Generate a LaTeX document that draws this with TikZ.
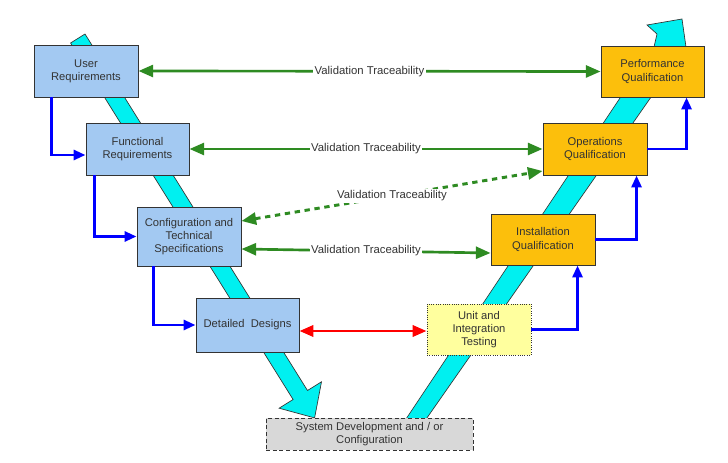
\documentclass[tikz,border=0pt]{standalone}
\usepackage{fontspec}
\setmainfont{Liberation Sans}
\usetikzlibrary{arrows.meta,calc}
\definecolor{boxblue}{HTML}{A3C9F2}
\definecolor{boxorange}{HTML}{FCBF0C}
\definecolor{boxyellow}{HTML}{FFFF9E}
\definecolor{boxgray}{HTML}{D8D8D8}
\definecolor{bandcyan}{HTML}{00F0F0}
\definecolor{vgreen}{HTML}{2E8B22}
\definecolor{txtgray}{HTML}{333333}
\tikzset{
  stage/.style={draw=black!80, line width=0.7pt, align=center, inner sep=1pt,
    text=txtgray, font=\fontsize{8.4}{10}\selectfont},
  bluebox/.style={stage, fill=boxblue},
  orangebox/.style={stage, fill=boxorange},
  yellowbox/.style={stage, fill=boxyellow, densely dotted},
  graybox/.style={stage, fill=boxgray, densely dashed},
  band/.style={fill=bandcyan, draw=black!80, line width=0.5pt},
  flowconn/.style={draw=blue, line width=2.2pt, -{Triangle[length=9pt,width=7.5pt]}},
  traceconn/.style={draw=vgreen, line width=2pt,
    {Triangle[length=11pt,width=9pt]}-{Triangle[length=11pt,width=9pt]}},
  tracedash/.style={draw=vgreen, line width=2.2pt, dash pattern=on 4pt off 3.5pt,
    {Triangle[length=11pt,width=9pt]}-{Triangle[length=11pt,width=9pt]}},
  testconn/.style={draw=red, line width=2pt,
    {Triangle[length=10.5pt,width=8.5pt]}-{Triangle[length=10.5pt,width=8.5pt]}},
  tracelabel/.style={fill=white, inner sep=1pt, text=txtgray, font=\fontsize{8.5}{10}\selectfont},
}
\begin{document}
\begin{tikzpicture}[x=0.75pt, y=-0.75pt]
\path[use as bounding box] (0,0) rectangle (728,463);
% bands of the V
\draw[band] (85,34) -- (307.5,390.5) -- (321.5,381.8) -- (314.6,417.9) -- (279.1,408.2)
  -- (293.1,399.5) -- (70.6,43) -- cycle;
\draw[band] (402,425) -- (654,47) -- (657,34) -- (647,25) -- (682,19) -- (686,47)
  -- (422,425) -- cycle;
% stages
\node[bluebox, minimum width=78pt, minimum height=39pt] (ur) at (86,71) {User\\Requirements};
\node[bluebox, minimum width=77.25pt, minimum height=39pt] (fr) at (137.5,149) {Functional\\Requirements};
\node[bluebox, minimum width=78pt, minimum height=44.25pt] (cfg) at (189,236.5) {Configuration and\\Technical\\Specifications};
\node[bluebox, minimum width=77.25pt, minimum height=40.5pt] (dd) at (247.5,325) {Detailed\ \ Designs};
\node[graybox, minimum width=155.25pt, minimum height=24pt] (sys) at (369.5,434) {System Development and / or\\Configuration};
\node[yellowbox, minimum width=78pt, minimum height=38.25pt] (uit) at (479,329.5) {Unit and\\Integration\\Testing};
\node[orangebox, minimum width=78pt, minimum height=38.25pt] (iq) at (543,239.5) {Installation\\Qualification};
\node[orangebox, minimum width=78pt, minimum height=39pt] (oq) at (595,149) {Operations\\Qualification};
\node[orangebox, minimum width=77.25pt, minimum height=38.25pt] (pq) at (652.5,71.5) {Performance\\Qualification};
% flow connectors
\draw[flowconn] ($(ur.south west)+(18,0)$) |- ($(fr.west)+(0,6)$);
\draw[flowconn] ($(fr.south west)+(9,0)$) |- (cfg.west);
\draw[flowconn] ($(cfg.south west)+(17,0)$) |- (dd.west);
\draw[flowconn] (uit.east) -| ($(iq.south west)+(87,0)$);
\draw[flowconn] (iq.east) -| ($(oq.south west)+(94,0)$);
\draw[flowconn] (oq.east) -| ($(pq.south west)+(86,0)$);
% traceability
\draw[traceconn] (ur.east) -- node[tracelabel] {Validation Traceability} (pq.west);
\draw[traceconn] (fr.east) -- node[tracelabel] {Validation Traceability} (oq.west);
\draw[tracedash] ($(cfg.east)+(0,-15.5)$) -- node[tracelabel] {Validation Traceability} ($(oq.west)+(0,22)$);
\draw[traceconn] ($(cfg.east)+(0,12.5)$) -- node[tracelabel] {Validation Traceability} ($(iq.west)+(0,13.5)$);
\draw[testconn] ($(dd.east)+(0,6)$) -- ($(uit.west)+(0,1.5)$);
\end{tikzpicture}
\end{document}
